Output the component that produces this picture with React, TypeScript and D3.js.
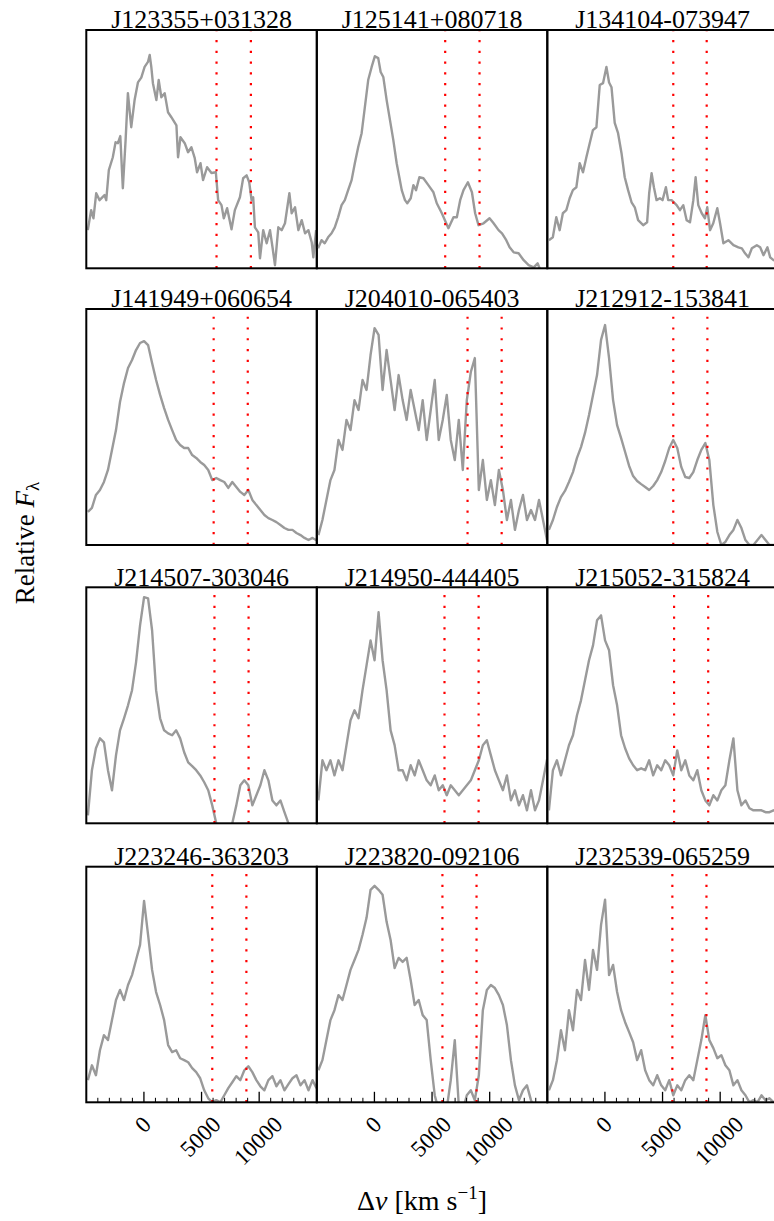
import React from 'react';
import * as d3 from 'd3';

// Object names, one per panel (row-major, 3 columns x 4 rows)
const objectNames = [
  'J123355+031328', 'J125141+080718', 'J134104-073947',
  'J141949+060654', 'J204010-065403', 'J212912-153841',
  'J214507-303046', 'J214950-444405', 'J215052-315824',
  'J223246-363203', 'J223820-092106', 'J232539-065259',
];

// [OIII] 4959 / 5007 positions relative to H-beta, km/s
const oiiiBlue = [6300, 6140, 5930, 6050, 8080, 5930, 6120, 6080, 6000, 5930, 5900, 5850];
const oiiiRed = [9280, 9120, 8830, 9010, 11040, 8890, 9080, 9040, 8960, 8890, 8860, 8810];

const velDomain: [number, number] = [-5000, 15000];
const majorTicks = [0, 5000, 10000];
const tickLabels = ['0', '5000', '10000'];

// Finely sampled spectra: [velocity km/s, relative flux]
const specJ123355: [number, number][] = [
  [-4870, 0.16], [-4580, 0.244], [-4380, 0.21], [-4140, 0.315], [-3850, 0.286], [-3420, 0.307],
  [-3270, 0.286], [-3045, 0.412], [-2700, 0.466], [-2460, 0.529], [-2260, 0.525], [-2050, 0.555],
  [-1830, 0.336], [-1590, 0.538], [-1390, 0.735], [-1100, 0.592], [-810, 0.706], [-520, 0.78],
  [-230, 0.8], [60, 0.845], [350, 0.866], [500, 0.895], [640, 0.845], [780, 0.777], [1080, 0.706],
  [1280, 0.79], [1510, 0.718], [1800, 0.735], [2090, 0.655], [2380, 0.634], [2820, 0.6],
  [2960, 0.466], [3170, 0.55], [3540, 0.525], [3830, 0.487], [4120, 0.508], [4410, 0.462],
  [4610, 0.403], [4910, 0.441], [5130, 0.37], [5480, 0.424], [5860, 0.4], [6240, 0.403],
  [6440, 0.286], [6730, 0.265], [6930, 0.21], [7220, 0.252], [7600, 0.164], [7890, 0.244],
  [8330, 0.298], [8610, 0.378], [8910, 0.39], [9135, 0.361], [9340, 0.286], [9480, 0.298],
  [9630, 0.172], [9920, 0.151], [10070, 0.042], [10350, 0.16], [10650, 0.105], [10940, 0.16],
  [11170, 0.084], [11370, 0.013], [11660, 0.172], [11950, 0.16], [12240, 0.189], [12620, 0.315],
  [12820, 0.231], [13110, 0.256], [13400, 0.16], [13690, 0.202], [13980, 0.147], [14270, 0.16],
  [14560, 0.109], [14700, 0.046], [14940, 0.16],
];

const specJ125141: [number, number][] = [
  [-4890, 0.084], [-4590, 0.118], [-4310, 0.105], [-4020, 0.13], [-3720, 0.147], [-3440, 0.172],
  [-3150, 0.214], [-2850, 0.265], [-2570, 0.286], [-2280, 0.328], [-1980, 0.37], [-1700, 0.441],
  [-1410, 0.508], [-1110, 0.567], [-830, 0.676], [-540, 0.79], [-240, 0.845], [40, 0.89],
  [330, 0.882], [540, 0.824], [770, 0.803], [1060, 0.706], [1350, 0.622], [1640, 0.538],
  [1930, 0.441], [2160, 0.382], [2370, 0.328], [2650, 0.286], [2850, 0.273], [3150, 0.294],
  [3380, 0.349], [3610, 0.328], [3900, 0.382], [4250, 0.378], [4680, 0.349], [5120, 0.319],
  [5410, 0.273], [5850, 0.231], [6420, 0.168], [6860, 0.214], [7150, 0.214], [7440, 0.286],
  [7730, 0.328], [8110, 0.361], [8460, 0.319], [8740, 0.231], [9030, 0.181], [9470, 0.189],
  [9990, 0.21], [10340, 0.189], [10770, 0.16], [11070, 0.147], [11440, 0.118], [11730, 0.088],
  [12080, 0.067], [12510, 0.063], [12950, 0.034], [13380, 0.013], [13820, 0.004], [14160, 0.021],
  [14400, -0.008], [14800, -0.03],
];

const specJ134104: [number, number][] = [
  [-4860, 0.118], [-4520, 0.13], [-4220, 0.214], [-3930, 0.16], [-3650, 0.231], [-3350, 0.244],
  [-3060, 0.294], [-2780, 0.328], [-2480, 0.34], [-2190, 0.441], [-1900, 0.403], [-1610, 0.466],
  [-1320, 0.525], [-1040, 0.58], [-740, 0.592], [-450, 0.769], [-165, 0.777], [130, 0.845],
  [360, 0.78], [570, 0.76], [850, 0.61], [1140, 0.567], [1440, 0.483], [1720, 0.382],
  [2010, 0.328], [2310, 0.277], [2590, 0.256], [2880, 0.202], [3320, 0.181], [3660, 0.193],
  [3840, 0.315], [4050, 0.399], [4250, 0.34], [4480, 0.286], [4770, 0.294], [5000, 0.286],
  [5290, 0.34], [5490, 0.286], [5790, 0.286], [6220, 0.265], [6510, 0.244], [6800, 0.265],
  [7090, 0.202], [7380, 0.193], [7670, 0.286], [7870, 0.382], [8100, 0.265], [8400, 0.231],
  [8680, 0.21], [8880, 0.256], [9120, 0.16], [9400, 0.189], [9750, 0.252], [9990, 0.189],
  [10280, 0.105], [10710, 0.118], [11150, 0.097], [11580, 0.088], [11880, 0.084], [12160, 0.063],
  [12450, 0.046], [12750, 0.084], [13180, 0.097], [13470, 0.088], [13760, 0.055], [14100, 0.088],
  [14340, 0.046], [14630, 0.034], [14950, 0.03],
];

// Common velocity grid (km/s) for the remaining spectra
const velGrid = [
  -4860, -4512, -4164, -3816, -3468, -3120, -2772, -2424, -2076, -1728, -1380, -1032, -684, -336,
  12, 360, 708, 1056, 1404, 1752, 2100, 2448, 2796, 3144, 3492, 3840, 4188, 4536, 4884, 5232,
  5580, 5928, 6276, 6624, 6972, 7320, 7668, 8016, 8364, 8712, 9060, 9408, 9756, 10104, 10452,
  10800, 11148, 11496, 11844, 12192, 12540, 12888, 13236, 13584, 13932, 14280, 14628, 14976,
];

const fluxJ141949 = [
  0.14, 0.157, 0.212, 0.233, 0.267, 0.318, 0.403, 0.487, 0.606, 0.686, 0.75, 0.784, 0.826, 0.856,
  0.864, 0.847, 0.771, 0.699, 0.636, 0.58, 0.53, 0.487, 0.445, 0.424, 0.411, 0.411, 0.381, 0.369,
  0.352, 0.339, 0.318, 0.275, 0.284, 0.275, 0.267, 0.242, 0.267, 0.246, 0.225, 0.212, 0.233,
  0.191, 0.169, 0.148, 0.127, 0.114, 0.106, 0.097, 0.085, 0.072, 0.064, 0.064, 0.051, 0.042,
  0.03, 0.021, 0.03, 0.02,
];
const fluxJ204010 = [
  0.042, 0.106, 0.191, 0.275, 0.318, 0.445, 0.403, 0.53, 0.487, 0.614, 0.572, 0.699, 0.657, 0.805,
  0.919, 0.89, 0.657, 0.826, 0.699, 0.572, 0.72, 0.614, 0.53, 0.657, 0.572, 0.487, 0.614, 0.445,
  0.572, 0.699, 0.445, 0.53, 0.636, 0.445, 0.36, 0.53, 0.318, 0.614, 0.733, 0.792, 0.233, 0.36,
  0.191, 0.275, 0.169, 0.318, 0.233, 0.106, 0.191, 0.064, 0.148, 0.212, 0.106, 0.148, 0.106,
  0.191, 0.106, 0.02,
];
const fluxJ212912 = [
  0.064, 0.106, 0.161, 0.203, 0.229, 0.267, 0.309, 0.369, 0.415, 0.475, 0.551, 0.636, 0.72, 0.869,
  0.932, 0.792, 0.614, 0.508, 0.453, 0.394, 0.335, 0.292, 0.271, 0.258, 0.246, 0.233, 0.25, 0.275,
  0.309, 0.356, 0.411, 0.445, 0.411, 0.331, 0.288, 0.284, 0.309, 0.36, 0.403, 0.432, 0.36, 0.169,
  0.055, 0, 0.013, 0.042, 0.064, 0.106, 0.072, 0.021, 0, 0, 0.021, 0.042, 0.021, 0, 0, 0,
];
const fluxJ214507 = [
  0.034, 0.225, 0.318, 0.36, 0.343, 0.225, 0.14, 0.288, 0.394, 0.445, 0.5, 0.564, 0.682, 0.839,
  0.958, 0.953, 0.818, 0.564, 0.445, 0.394, 0.381, 0.373, 0.394, 0.36, 0.301, 0.258, 0.242, 0.225,
  0.203, 0.174, 0.14, 0.076, 0, -0.03, -0.03, -0.03, 0, 0.076, 0.161, 0.182, 0.161, 0.076, 0.119,
  0.161, 0.225, 0.182, 0.097, 0.076, 0.097, 0.047, 0, -0.03, -0.03, -0.03, -0.03, -0.03, -0.03,
  -0.03,
];
const fluxJ214950 = [
  0.097, 0.267, 0.225, 0.267, 0.203, 0.267, 0.225, 0.331, 0.436, 0.479, 0.445, 0.564, 0.669, 0.775,
  0.691, 0.894, 0.691, 0.564, 0.394, 0.331, 0.225, 0.225, 0.182, 0.246, 0.203, 0.267, 0.225, 0.182,
  0.161, 0.203, 0.14, 0.161, 0.119, 0.161, 0.14, 0.119, 0.14, 0.161, 0.182, 0.225, 0.267, 0.331,
  0.352, 0.288, 0.225, 0.182, 0.14, 0.203, 0.097, 0.14, 0.076, 0.119, 0.055, 0.14, 0.055, 0.097,
  0.182, 0.27,
];
const fluxJ215052 = [
  0.055, 0.225, 0.267, 0.203, 0.267, 0.331, 0.373, 0.458, 0.521, 0.606, 0.691, 0.754, 0.86, 0.881,
  0.775, 0.733, 0.585, 0.5, 0.373, 0.318, 0.275, 0.246, 0.225, 0.233, 0.225, 0.267, 0.203, 0.246,
  0.225, 0.267, 0.246, 0.203, 0.309, 0.225, 0.267, 0.203, 0.182, 0.225, 0.14, 0.097, 0.076, 0.119,
  0.097, 0.14, 0.161, 0.267, 0.36, 0.14, 0.076, 0.097, 0.064, 0.055, 0.055, 0.055, 0.047, 0.047,
  0.055, 0.05,
];
const fluxJ223246 = [
  0.094, 0.157, 0.115, 0.221, 0.285, 0.264, 0.349, 0.434, 0.477, 0.434, 0.498, 0.54, 0.604, 0.668,
  0.855, 0.711, 0.562, 0.468, 0.413, 0.349, 0.243, 0.213, 0.221, 0.187, 0.179, 0.17, 0.145, 0.128,
  0.102, 0.051, 0.017, 0, 0.009, 0, 0.03, 0.06, 0.085, 0.111, 0.094, 0.136, 0.153, 0.128, 0.094,
  0.068, 0.051, 0.094, 0.111, 0.068, 0.094, 0.051, 0.077, 0.102, 0.115, 0.072, 0.094, 0.051, 0.094,
  0.06,
];
const fluxJ223820 = [
  0.136, 0.179, 0.264, 0.349, 0.391, 0.455, 0.434, 0.498, 0.562, 0.604, 0.647, 0.711, 0.783, 0.902,
  0.919, 0.902, 0.881, 0.766, 0.689, 0.57, 0.613, 0.596, 0.613, 0.519, 0.413, 0.434, 0.37, 0.349,
  0.179, 0.03, -0.034, -0.034, -0.026, 0.094, 0.264, -0.013, -0.034, 0.03, 0.051, 0.009, 0.115,
  0.391, 0.477, 0.498, 0.485, 0.455, 0.413, 0.328, 0.179, 0.072, 0.009, 0.051, 0.072, 0.009,
  -0.034, -0.034, -0.034, -0.034,
];
const fluxJ232539 = [
  0.051, 0.094, 0.179, 0.306, 0.221, 0.391, 0.306, 0.477, 0.434, 0.604, 0.477, 0.647, 0.562, 0.753,
  0.86, 0.54, 0.583, 0.468, 0.391, 0.34, 0.298, 0.255, 0.179, 0.221, 0.136, 0.094, 0.072, 0.115,
  0.072, 0.051, 0.094, 0.03, 0.072, 0.051, 0.094, 0.115, 0.094, 0.179, 0.264, 0.37, 0.264, 0.23,
  0.187, 0.2, 0.157, 0.136, 0.072, 0.094, 0.051, 0.03, 0, 0.009, 0, 0.03, 0.009, 0.017, 0, 0.01,
];

const gridFlux = [
  fluxJ141949, fluxJ204010, fluxJ212912, fluxJ214507, fluxJ214950, fluxJ215052,
  fluxJ223246, fluxJ223820, fluxJ232539,
];

const spectra: [number, number][][] = [
  specJ123355, specJ125141, specJ134104,
  ...gridFlux.map((f) => d3.zip(velGrid, f) as [number, number][]),
];

// Figure layout
const WIDTH = 774;
const HEIGHT = 1221;
const panelLefts = [86.3, 316.8, 547.3];
const panelWidth = 230.5;
const rowTops = [30, 309, 587.3, 866.7];
const rowBottoms = [268.3, 545, 823.3, 1102.3];
const FONT = 'Liberation Serif, Times New Roman, serif';
const LINE_GREY = '#9a9a9a';

export default function App() {
  const nRows = rowTops.length;
  const textStyle = { fontFamily: FONT };

  return (
    <svg
      width={WIDTH}
      height={HEIGHT}
      viewBox={`0 0 ${WIDTH} ${HEIGHT}`}
      style={{ position: 'absolute', left: 0, top: 0, background: '#fff', fontFamily: FONT }}
    >
      <defs>
        {spectra.map((_, k) => {
          const row = Math.floor(k / 3);
          const col = k % 3;
          return (
            <clipPath id={`panel-clip-${k}`} key={k}>
              <rect
                x={panelLefts[col]}
                y={rowTops[row]}
                width={panelWidth}
                height={rowBottoms[row] - rowTops[row]}
              />
            </clipPath>
          );
        })}
      </defs>

      {spectra.map((spec, k) => {
        const row = Math.floor(k / 3);
        const col = k % 3;
        const x0 = panelLefts[col];
        const top = rowTops[row];
        const bottom = rowBottoms[row];
        const x = d3.scaleLinear().domain(velDomain).range([x0, x0 + panelWidth]);
        const y = d3.scaleLinear().domain([0, 1]).range([bottom, top]);
        const line = d3
          .line<[number, number]>()
          .x((d) => x(d[0]))
          .y((d) => y(d[1]));
        const isBottomRow = row === nRows - 1;
        const minor = d3
          .range(-4000, 15000, 1000)
          .filter((v) => !majorTicks.includes(v));

        return (
          <g key={k}>
            <g clipPath={`url(#panel-clip-${k})`}>
              <path
                d={line(spec) || ''}
                fill="none"
                stroke={LINE_GREY}
                strokeWidth={2.4}
                strokeLinejoin="round"
              />
              {[oiiiBlue[k], oiiiRed[k]].map((v, j) => (
                <line
                  key={j}
                  x1={x(v)}
                  x2={x(v)}
                  y1={bottom}
                  y2={top}
                  stroke="#ff0000"
                  strokeWidth={2.2}
                  strokeDasharray="2.2 8.57"
                />
              ))}
            </g>

            {isBottomRow && (
              <g>
                {majorTicks.map((v) => (
                  <line
                    key={`M${v}`}
                    x1={x(v)}
                    x2={x(v)}
                    y1={bottom}
                    y2={bottom - 10.5}
                    stroke="#000"
                    strokeWidth={1.3}
                  />
                ))}
                {minor.map((v) => (
                  <line
                    key={`m${v}`}
                    x1={x(v)}
                    x2={x(v)}
                    y1={bottom}
                    y2={bottom - 4.5}
                    stroke="#000"
                    strokeWidth={1}
                  />
                ))}
                {majorTicks.map((v, j) => {
                  const fs = 23;
                  const len = tickLabels[j].length * 0.5 * fs;
                  const box = (len + 0.7 * fs) / Math.SQRT2;
                  const cy = bottom + 12.5 + box / 2;
                  return (
                    <text
                      key={`L${v}`}
                      transform={`translate(${x(v) - 1},${cy}) rotate(-45)`}
                      textAnchor="middle"
                      dominantBaseline="central"
                      fontSize={fs}
                      fill="#000"
                      style={textStyle}
                    >
                      {tickLabels[j]}
                    </text>
                  );
                })}
              </g>
            )}

            <rect
              x={x0}
              y={top}
              width={panelWidth}
              height={bottom - top}
              fill="none"
              stroke="#000"
              strokeWidth={2}
            />

            <text
              x={x0 + panelWidth / 2}
              y={top - 1.8}
              textAnchor="middle"
              fontSize={26}
              fill="#000"
              style={textStyle}
            >
              {objectNames[k]}
            </text>
          </g>
        );
      })}

      <text x={422} y={1210} textAnchor="middle" fontSize={28} fill="#000" style={textStyle}>
        Δ<tspan fontStyle="italic">v</tspan> [km s
        <tspan dy={-11} fontSize={19}>−1</tspan>
        <tspan dy={11}>]</tspan>
      </text>

      <text
        transform="translate(33.5,543) rotate(-90)"
        textAnchor="middle"
        fontSize={27}
        fill="#000"
        style={textStyle}
      >
        Relative <tspan fontStyle="italic">F</tspan>
        <tspan fontSize={19} dy={5}>λ</tspan>
      </text>
    </svg>
  );
}
